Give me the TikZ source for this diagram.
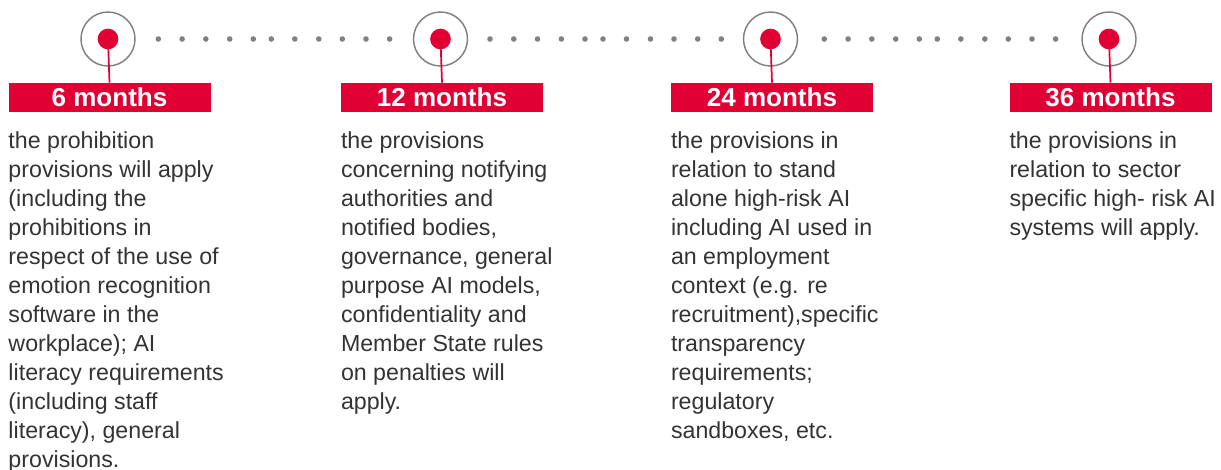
\documentclass[tikz,border=0pt]{standalone}
\usepackage{fontspec}
\setmainfont{Liberation Sans}
\usetikzlibrary{positioning,calc}
\definecolor{eured}{RGB}{224,0,52}
\definecolor{ringgray}{RGB}{128,128,128}
\definecolor{bodygray}{RGB}{51,51,51}
\tikzset{
  ring/.style={circle,draw=ringgray,line width=1.1pt,minimum size=40.5pt,inner sep=0},
  reddot/.style={circle,fill=eured,minimum size=15.5pt,inner sep=0},
  stem/.style={eured,line width=1.3pt},
  monthbox/.style={fill=eured,text=white,minimum width=151.5pt,minimum height=21.75pt,inner sep=0,
    font=\fontsize{19.5}{22}\selectfont\bfseries},
  bodytext/.style={anchor=north west,inner sep=0,align=left,text=bodygray,
    font=\fontsize{17.4}{21.75}\selectfont},
  gapdot/.style={fill=ringgray}
}
\newcommand \mystage[4]
{
\node[ring]   (r#1) at (#2,39) {};
\node[reddot] (d#1) at (r#1.center) {};
\node[monthbox] (m#1) at ($(r#1.center)+(1.5,58.5)$) {#3};
\draw[stem] (d#1.center)--(m#1.north);
\node[bodytext] (t#1) at ($(m#1.south west)+(0,19)$) {#4};
}

\begin{document}
\begin{tikzpicture}[x=0.75pt,y=-0.75pt]
\useasboundingbox (0,0) rectangle (1221,470);
\clip (0,0) rectangle (1221,470);
% dotted track between the milestones
\foreach \s in {158.3,490,824.3}
  \foreach \o in {0,23.8,47.5,71.4,95,113,136.5,160.5,184,207.7,231.3}
    \fill[gapdot] (\s+\o,39) circle (2.1pt);
\mystage{1}{108}{6 months}{the prohibition\\provisions will apply\\(including the\\prohibitions in\\respect of the use of\\emotion recognition\\software in the\\workplace); AI\\literacy requirements\\(including staff\\literacy), general\\provisions.}
\mystage{2}{440.5}{12 months}{the provisions\\concerning notifying\\authorities and\\notified bodies,\\governance, general\\purpose AI models,\\confidentiality and\\Member State rules\\on penalties will\\apply.}
\mystage{3}{770.5}{24 months}{the provisions in\\relation to stand\\alone high-risk AI\\including AI used in\\an employment\\context (e.g. re\\recruitment),specific\\transparency\\requirements;\\regulatory\\sandboxes, etc.}
\mystage{4}{1109}{36 months}{the provisions in\\relation to sector\\specific high- risk AI\\systems will apply.}
\end{tikzpicture}
\end{document}
